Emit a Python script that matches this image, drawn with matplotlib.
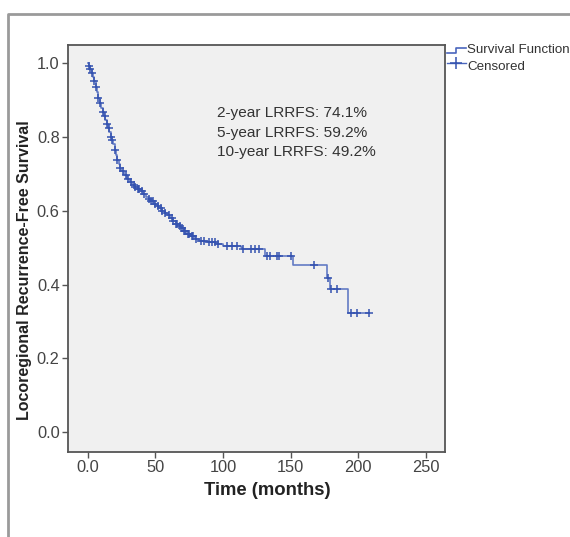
import numpy as np
import matplotlib
matplotlib.use("Agg")
import matplotlib.pyplot as plt
from matplotlib.lines import Line2D

plt.rcParams['font.family'] = ['Liberation Sans', 'DejaVu Sans']

# Kaplan-Meier estimate: event times (months) and survival after each event
event_times = [1, 2, 3, 4, 5, 6, 7, 8, 9, 10, 11, 12, 13, 14, 15, 16, 17, 18, 19, 20,
               21, 22, 23, 24, 25, 27, 29, 31, 33, 35, 37, 39, 41, 43, 45, 47, 49, 51,
               53, 55, 57, 59, 61, 63, 65, 67, 69, 71, 73, 76, 79, 82, 88, 95, 100,
               113, 114, 131, 152, 177, 179, 192]
survival = [0.990, 0.982, 0.972, 0.962, 0.950, 0.935, 0.920, 0.905, 0.890, 0.878,
            0.866, 0.855, 0.845, 0.835, 0.823, 0.812, 0.800, 0.790, 0.780, 0.765,
            0.750, 0.738, 0.726, 0.715, 0.706, 0.695, 0.685, 0.677, 0.670, 0.664,
            0.658, 0.652, 0.646, 0.638, 0.632, 0.625, 0.618, 0.612, 0.606, 0.600,
            0.594, 0.587, 0.580, 0.572, 0.565, 0.558, 0.552, 0.545, 0.538, 0.530,
            0.524, 0.518, 0.514, 0.510, 0.505, 0.502, 0.496, 0.478, 0.453, 0.419,
            0.387, 0.322]

# censored observations (months)
censored_times = [1, 2, 3.5, 5, 6, 8, 9.5, 11, 12.5, 14, 15.5, 17, 18, 20, 22, 24, 26,
                  28, 30, 32, 34, 35, 37, 38, 40, 42, 45, 47, 48, 50, 52, 54, 55, 57,
                  60, 62, 63, 65, 66, 68, 70, 71, 72, 74, 75, 77, 78, 80, 84, 86, 90,
                  92, 94, 96, 103, 107, 110, 115, 120.5, 123.6, 126.6, 132.7, 135,
                  140, 141.2, 150, 167, 177.5, 180, 184, 194.4, 198.8, 208]

annot_lines = ["2-year LRRFS: 74.1%", "5-year LRRFS: 59.2%", "10-year LRRFS: 49.2%"]

W, H = 570, 537
fig = plt.figure(figsize=(W / 100, H / 100), dpi=100)
fig.patch.set_facecolor('white')

def fx(px):
    return px / W

def fy(py):
    return 1 - py / H

ax = fig.add_axes([fx(68), fy(452), fx(445) - fx(68), fy(45) - fy(452)])
ax.set_facecolor('#f0f0f0')

line_col = '#4a66bd'
mark_col = '#3553b0'

# step curve
t_step = np.concatenate([[0], event_times, [208]])
s_step = np.concatenate([[1.0], survival, [survival[-1]]])
ax.step(t_step, s_step, where='post', color=line_col, lw=1.2, alpha=0.85)

# censored marks sit on the curve
idx = np.searchsorted(np.array(event_times), np.array(censored_times), side='right')
cens_s = np.concatenate([[1.0], survival])[idx]
ax.plot(censored_times, cens_s, linestyle='none', marker='+', color=mark_col,
        markersize=6, mew=1.1)

ax.set_xlim(-14.5, 264)
ax.set_ylim(-0.053, 1.048)
ax.set_xticks([0, 50, 100, 150, 200, 250])
ax.set_xticklabels(['0.0', '50', '100', '150', '200', '250'])
ax.set_yticks([0.0, 0.2, 0.4, 0.6, 0.8, 1.0])
ax.set_yticklabels(['0.0', '0.2', '0.4', '0.6', '0.8', '1.0'])
ax.tick_params(axis='both', direction='out', length=4, width=1, color='#555555',
               labelsize=11.8, labelcolor='#444444', pad=2)
for sp in ax.spines.values():
    sp.set_color('#555555')
    sp.set_linewidth(1.3)

ax.set_xlabel('Time (months)', fontsize=13.3, fontweight='bold', color='#222222')
ax.xaxis.set_label_coords(0.528, -0.074)
ax.set_ylabel('Locoregional Recurrence-Free Survival', fontsize=11.5, fontweight='bold',
              color='#222222')
ax.yaxis.set_label_coords(-0.095, 0.447)

for i, txt in enumerate(annot_lines):
    ax.text(95.7, 0.863 - i * 0.052, txt, fontsize=11.1, color='#333333', va='center', ha='left')

# legend drawn outside the plot on the right
fig.add_artist(Line2D([fx(447), fx(456), fx(456), fx(466)], [fy(53), fy(53), fy(48), fy(48)],
                      color=line_col, lw=1.2, transform=fig.transFigure))
fig.text(fx(467), fy(50), 'Survival Function', fontsize=9.6, color='#333333', va='center')
fig.add_artist(Line2D([fx(447), fx(466)], [fy(63), fy(63)], color=line_col, lw=1.0,
                      transform=fig.transFigure))
fig.add_artist(Line2D([fx(456)], [fy(63)], marker='+', markersize=8, mew=1.1,
                      color=mark_col, transform=fig.transFigure))
fig.text(fx(467), fy(67), 'Censored', fontsize=9.6, color='#333333', va='center')

# outer gray frame
fig.add_artist(Line2D([fx(8), fx(8), fx(570)], [fy(537), fy(14), fy(14)],
                      color='#9a9a9a', lw=2, transform=fig.transFigure))

fig.savefig('out.png', dpi=100)
